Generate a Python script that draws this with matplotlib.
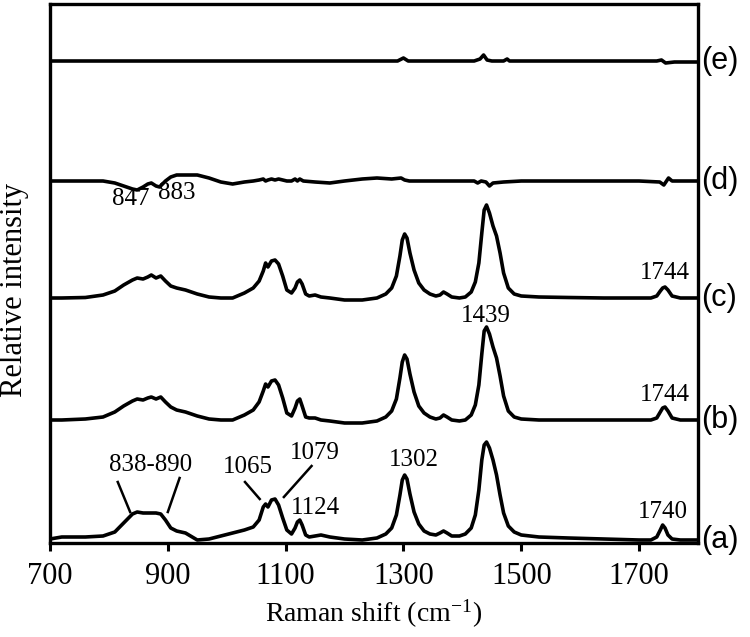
import matplotlib
matplotlib.use('Agg')
import matplotlib.pyplot as plt

# Raman shift grid (cm-1) shared by spectra (a), (b), (c)
shift = [700, 720, 760, 790, 810, 825, 840, 848, 858, 866,
         872, 880, 888, 896, 905, 915, 930, 950, 970, 990,
         1010, 1030, 1045, 1055, 1062, 1066, 1070, 1076, 1082, 1088,
         1095, 1102, 1110, 1116, 1120, 1124, 1128, 1134, 1140, 1150,
         1160, 1175, 1200, 1230, 1255, 1270, 1280, 1288, 1294, 1298,
         1302, 1306, 1311, 1318, 1326, 1335, 1345, 1355, 1362, 1368,
         1374, 1382, 1395, 1405, 1415, 1422, 1428, 1433, 1437, 1441,
         1446, 1452, 1458, 1464, 1470, 1478, 1488, 1500, 1530, 1580,
         1640, 1700, 1720, 1730, 1736, 1740, 1744, 1749, 1756, 1770,
         1800]

# relative intensities (arbitrary units)
int_a = [1, 3, 3, 4, 8, 17, 26, 28, 27, 27,
         27, 27, 26, 20, 12, 9, 7, 0, 1, 4,
         7, 10, 13, 20, 33, 36, 33, 40, 41, 35,
         22, 10, 6, 12, 18, 20, 15, 5, 3, 4,
         5, 3, 1, 0, 2, 6, 12, 25, 45, 60,
         65, 61, 46, 28, 16, 9, 6, 5, 7, 9,
         7, 4, 4, 6, 12, 25, 50, 80, 95, 98,
         92, 80, 65, 45, 27, 14, 8, 5, 3, 2,
         1, 0, 0, 3, 10, 15, 12, 5, 1, 0,
         0]

int_b = [0, 0, 1, 3, 8, 14, 19, 21, 20, 22,
         23, 21, 23, 18, 13, 10, 8, 4, 1, 0,
         0, 5, 10, 18, 29, 36, 33, 39, 40, 35,
         22, 7, 4, 12, 19, 21, 14, 3, 2, 2,
         0, -1, -3, -3, -1, 3, 9, 21, 42, 58,
         65, 61, 46, 28, 14, 7, 3, 1, 2, 5,
         3, 0, -1, 0, 5, 15, 35, 66, 89, 93,
         86, 73, 62, 44, 24, 9, 3, 1, 0, 0,
         0, 0, 0, 2, 8, 12, 13, 9, 2, 0,
         0]

int_c = [0, 0, 0.5, 3, 7, 13, 18, 20, 19, 21,
         23, 20, 22, 17, 12, 10, 8, 4, 1, 0,
         0, 5, 10, 17, 27, 35, 31, 37, 38, 34,
         22, 8, 5, 10, 16, 18, 14, 4, 2, 3,
         1, 0, -2, -2, 0, 4, 10, 22, 42, 58,
         64, 60, 45, 28, 15, 8, 4, 2, 3, 6,
         4, 1, 0, 1, 6, 16, 35, 65, 88, 93,
         85, 72, 62, 45, 25, 10, 4, 2, 1, 0.5,
         0, 0, 0, 2, 7, 10, 11, 8, 2, 0,
         0]

shift_d = [700, 760, 790, 810, 825, 840, 848, 858, 866, 872, 880, 886, 896,
           905, 915, 930, 950, 970, 990, 1010, 1030, 1045, 1055, 1062, 1066,
           1070, 1076, 1082, 1088, 1095, 1102, 1110, 1116, 1120, 1124, 1130,
           1150, 1175, 1200, 1230, 1255, 1280, 1296, 1302, 1310, 1340, 1380,
           1420, 1426, 1432, 1440, 1446, 1452, 1470, 1500, 1600, 1700, 1735,
           1742, 1750, 1756, 1800]
int_d = [0, 0, 0, -2, -5, -8, -9, -6, -3, -2, -5, -6, 0,
         4, 6, 6, 6, 3, -1, -3, -1, 0, 1, 2, 0,
         1, 2, 1, 2, 1, 0, 0, 2, 0, 2, 0,
         -1, -2, 0, 2, 3, 2, 3, 1, 0, 0, 0,
         0, -2, 0, -1, -5, -2, -1, 0, 0, 0, -1,
         -4, 3, 0, 0]

shift_e = [700, 1000, 1290, 1300, 1308, 1420, 1430, 1436, 1442, 1450,
           1470, 1476, 1480, 1730, 1738, 1745, 1760, 1800]
int_e = [0, 0, 0, 3, 0, 0, 2, 6, 1, 0,
         0, 2, 0, 0, 1, -2, -1, -1]

spectra = [('(a)', shift, int_a, 3), ('(b)', shift, int_b, 123),
           ('(c)', shift, int_c, 245), ('(d)', shift_d, int_d, 362),
           ('(e)', shift_e, int_e, 482)]

# peak annotations: text, x, y
peak_labels = [('838-890', 870, 78), ('1065', 1036, 76), ('1079', 1150, 90),
               ('1124', 1150, 35), ('1302', 1318, 83), ('1740', 1740, 31),
               ('1744', 1743, 148), ('1439', 1440, 227), ('1744', 1743, 270),
               ('847', 837, 344), ('883', 916, 350)]
# leader lines: x0, y0, x1, y1
leaders = [(815, 61, 836, 31), (920, 65, 900, 31),
           (1031, 61, 1056, 44), (1144, 77, 1097, 46)]

xticks = [700, 900, 1100, 1300, 1500, 1700]

plt.rcParams['font.family'] = 'Liberation Serif'
plt.rcParams['mathtext.fontset'] = 'stix'

fig = plt.figure(figsize=(7.5, 6.37), dpi=100)
ax = fig.add_axes([50 / 750, 1 - 543 / 637, 648 / 750, 539 / 637])

for name, xs, ys, off in spectra:
    ax.plot(xs, [v + off for v in ys], color='black', linewidth=2.6,
            solid_joinstyle='round')
    ax.text(1.005, off / 539, name, transform=ax.transAxes,
            family='Liberation Sans', fontsize=22, ha='left', va='center')

for txt, x, y in peak_labels:
    ax.text(x, y, txt, fontsize=18, ha='center', va='center')
for x0, y0, x1, y1 in leaders:
    ax.plot([x0, x1], [y0, y1], color='black', linewidth=1.8)

ax.set_xlim(700, 1800)
ax.set_ylim(0, 539)
ax.set_xticks(xticks)
ax.set_yticks([])
ax.tick_params(axis='x', direction='out', length=6, width=2.2,
               labelsize=22, pad=8)
for sp in ax.spines.values():
    sp.set_linewidth(2.4)

fig.text(374 / 750, 1 - 614 / 637, 'Raman shift (cm$^{\\mathregular{-1}}$)',
         fontsize=20, ha='center', va='center')
fig.text(15 / 750, 1 - 290 / 637, 'Relative intensity', fontsize=22,
         rotation=90, ha='center', va='center')

fig.savefig('out.png', dpi=100)
